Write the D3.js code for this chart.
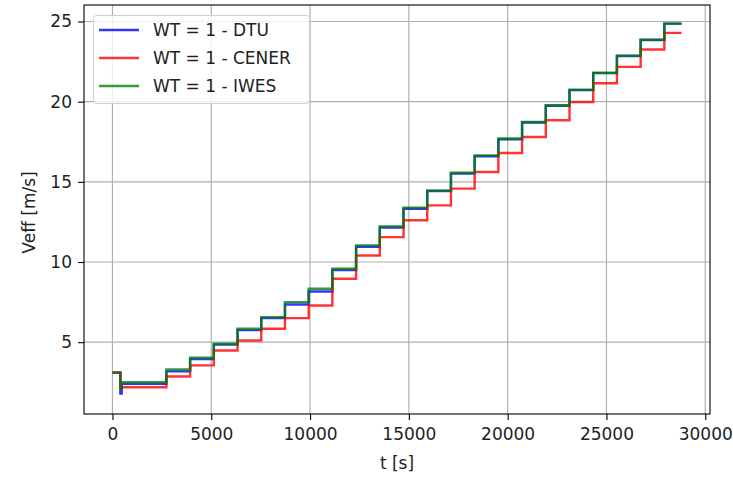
<!DOCTYPE html>
<html>
<head>
<meta charset="utf-8">
<script src="https://cdn.jsdelivr.net/npm/d3@7"></script>
<style>
  html, body { margin: 0; padding: 0; background: #fff; }
  svg { display: block; font-family: "DejaVu Sans", sans-serif; }
</style>
</head>
<body>
<svg id="chart" width="733" height="477"></svg>
<script>
// ---- data ----
const stepTimes = [0, 400, 2730, 3930, 5130, 6330, 7530, 8730, 9930, 11130, 12330, 13530,
                   14730, 15930, 17130, 18330, 19530, 20730, 21930, 23130, 24330, 25530, 26730, 27930];
const endTime = 28800;

const dtuLevels   = [3.1, 2.4, 3.18, 3.95, 4.85, 5.75, 6.5, 7.35, 8.16, 9.5, 10.95, 12.15,
                     13.32, 14.42, 15.52, 16.6, 17.65, 18.7, 19.75, 20.72, 21.78, 22.85, 23.85, 24.87];
const cenerLevels = [3.1, 2.19, 2.86, 3.55, 4.48, 5.1, 5.84, 6.5, 7.29, 8.96, 10.41, 11.55,
                     12.6, 13.53, 14.58, 15.61, 16.8, 17.8, 18.84, 19.98, 21.15, 22.17, 23.25, 24.29];
const iwesLevels  = [3.1, 2.5, 3.3, 4.03, 4.9, 5.84, 6.56, 7.5, 8.33, 9.58, 11.04, 12.22,
                     13.39, 14.47, 15.57, 16.65, 17.7, 18.73, 19.78, 20.75, 21.8, 22.87, 23.87, 24.87];

// start-up transients after the first drop (t, value)
const dtuTransient  = [[400, 1.8], [470, 2.4]];
const iwesTransient = [[400, 2.1], [460, 2.5]];

const xTicks = [0, 5000, 10000, 15000, 20000, 25000, 30000];
const yTicks = [5, 10, 15, 20, 25];

const seriesNames  = ["WT = 1 - DTU", "WT = 1 - CENER", "WT = 1 - IWES"];
const seriesColors = ["#0000ff", "#ff0000", "#008000"];

// ---- build series ----
function buildSeries(levels, transient) {
  const pts = [];
  stepTimes.forEach((t, i) => {
    if (i === 1 && transient) {
      transient.forEach(p => pts.push({t: p[0], v: p[1]}));
    } else {
      pts.push({t: t, v: levels[i]});
    }
  });
  pts.push({t: endTime, v: levels[levels.length - 1]});
  return pts;
}
const series = [
  buildSeries(dtuLevels, dtuTransient),
  buildSeries(cenerLevels, null),
  buildSeries(iwesLevels, iwesTransient)
];

// ---- layout ----
const svg = d3.select("#chart");
const L = 84, R = 710, T = 5, B = 414;
const FS = "17px";

const x = d3.scaleLinear().domain([-1440, 30240]).range([L, R]);
const y = d3.scaleLinear().domain([0.52, 26.03]).range([B, T]);

// grid
const g = svg.append("g");
g.selectAll(".gx").data(xTicks).enter().append("line")
  .attr("x1", d => x(d)).attr("x2", d => x(d)).attr("y1", T).attr("y2", B)
  .attr("stroke", "#b0b0b0").attr("stroke-width", 1.2);
g.selectAll(".gy").data(yTicks).enter().append("line")
  .attr("y1", d => y(d)).attr("y2", d => y(d)).attr("x1", L).attr("x2", R)
  .attr("stroke", "#b0b0b0").attr("stroke-width", 1.2);

// lines
const line = d3.line().x(d => x(d.t)).y(d => y(d.v)).curve(d3.curveStepAfter);
series.forEach((s, i) => {
  svg.append("path").datum(s)
    .attr("d", line)
    .attr("fill", "none")
    .attr("stroke", seriesColors[i])
    .attr("stroke-opacity", 0.8)
    .attr("stroke-width", 2.4)
    .attr("stroke-linejoin", "miter");
});

// axes
const xAxis = d3.axisBottom(x).tickValues(xTicks).tickFormat(d3.format("d")).tickSize(6).tickPadding(8);
const yAxis = d3.axisLeft(y).tickValues(yTicks).tickFormat(d3.format("d")).tickSize(6).tickPadding(6);
const ax = svg.append("g").attr("transform", `translate(0,${B})`).call(xAxis);
const ay = svg.append("g").attr("transform", `translate(${L},0)`).call(yAxis);
[ax, ay].forEach(a => {
  a.select(".domain").remove();
  a.selectAll("line").attr("stroke", "#000").attr("stroke-width", 1.1);
  a.selectAll("text").attr("fill", "#222").style("font-size", FS).style("font-family", "DejaVu Sans");
});

// spines
svg.append("rect").attr("x", L).attr("y", T).attr("width", R - L).attr("height", B - T)
  .attr("fill", "none").attr("stroke", "#000").attr("stroke-width", 1.1);

// axis labels
svg.append("text").attr("x", (L + R) / 2).attr("y", 469).attr("text-anchor", "middle")
  .style("font-size", FS).attr("fill", "#222").text("t [s]");
svg.append("text").attr("transform", `translate(35,${(T + B) / 2 + 3}) rotate(-90)`)
  .attr("text-anchor", "middle").style("font-size", FS).attr("fill", "#222").text("Veff [m/s]");

// legend
const lg = svg.append("g");
lg.append("rect").attr("x", 93.5).attr("y", 15.5).attr("width", 216).attr("height", 88)
  .attr("rx", 3).attr("fill", "#fff").attr("fill-opacity", 0.8).attr("stroke", "#d0d0d0");
seriesNames.forEach((n, i) => {
  const yy = 30 + i * 28;
  lg.append("line").attr("x1", 99).attr("x2", 139).attr("y1", yy).attr("y2", yy)
    .attr("stroke", seriesColors[i]).attr("stroke-opacity", 0.8).attr("stroke-width", 2.4);
  lg.append("text").attr("x", 153).attr("y", yy + 6).style("font-size", FS)
    .attr("fill", "#222").text(n);
});
</script>
</body>
</html>
